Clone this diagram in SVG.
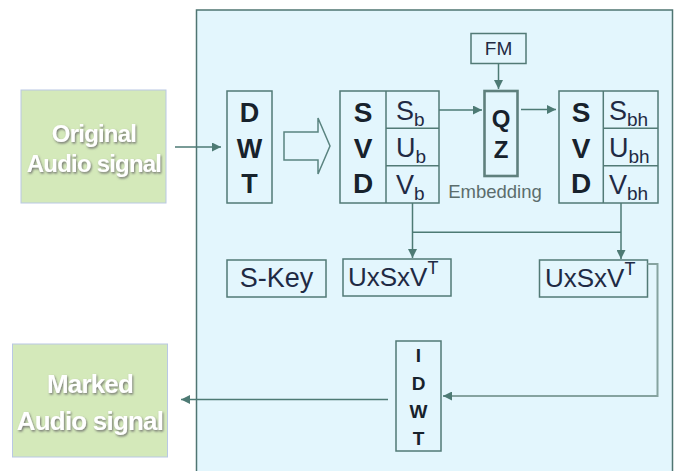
<svg xmlns="http://www.w3.org/2000/svg" width="676" height="471" viewBox="0 0 676 471">
  <defs>
    <style>
      .panel { fill: #e3f6fd; stroke: #4f7572; stroke-width: 1.5; }
      .box { fill: #e3f6fd; stroke: #527a76; stroke-width: 1.5; }
      .src { fill: #d4e9ba; stroke: #b9c8e4; stroke-width: 1; }
      .big { font-family: "Liberation Sans", Arial, sans-serif; font-weight: bold; fill: #17222c; text-anchor: middle; }
      .reg { font-family: "Liberation Sans", Arial, sans-serif; fill: #1f2a44; }
      .lbl { font-family: "Liberation Sans", Arial, sans-serif; font-weight: bold; fill: #ffffff; text-anchor: middle; letter-spacing: -0.8px; }
      .con { fill: none; stroke: #4d7a74; stroke-width: 1.5; }
    </style>
    <marker id="ah" viewBox="0 0 10 10" refX="10" refY="5" markerWidth="9" markerHeight="9" markerUnits="userSpaceOnUse" orient="auto">
      <path d="M0,0 L10,5 L0,10 z" fill="#4d7a74"/>
    </marker>
    <filter id="sh" x="-10%" y="-20%" width="120%" height="150%">
      <feDropShadow dx="1" dy="1.5" stdDeviation="1" flood-color="#6b6b6b" flood-opacity="0.9"/>
    </filter>
  </defs>

  <!-- processing panel -->
  <rect class="panel" x="196.5" y="10" width="476" height="470"/>

  <!-- source signal -->
  <g id="original">
    <rect class="src" x="21" y="90" width="145" height="113"/>
    <g filter="url(#sh)">
      <text class="lbl" font-size="24" x="94" y="142">Original</text>
      <text class="lbl" font-size="24" x="94" y="172">Audio signal</text>
    </g>
  </g>

  <!-- watermarked output -->
  <g id="marked">
    <rect class="src" x="12.5" y="344" width="155" height="113"/>
    <g filter="url(#sh)">
      <text class="lbl" font-size="26" x="90" y="393">Marked</text>
      <text class="lbl" font-size="26" x="90" y="430">Audio signal</text>
    </g>
  </g>

  <g id="dwt">
    <rect class="box" x="227" y="91" width="45" height="112"/>
    <text class="big" font-size="27" x="249.5" y="122">D</text>
    <text class="big" font-size="27" x="249.5" y="158">W</text>
    <text class="big" font-size="27" x="249.5" y="193">T</text>
  </g>

  <!-- hollow block arrow -->
  <g id="transform-arrow">
    <path d="M284,132 L318,132 L318,118 L330,146 L318,174 L318,160 L284,160 Z" fill="#e3f6fd" stroke="#5a8480" stroke-width="1.5" stroke-linejoin="miter"/>
  </g>

  <g id="svd1">
    <rect class="box" x="340" y="91" width="99" height="112"/>
    <line class="box" x1="386" y1="91" x2="386" y2="203"/>
    <line class="box" x1="386" y1="128.3" x2="439" y2="128.3"/>
    <line class="box" x1="386" y1="165.7" x2="439" y2="165.7"/>
    <text class="big" font-size="28" x="363" y="122">S</text>
    <text class="big" font-size="28" x="363" y="158">V</text>
    <text class="big" font-size="28" x="363" y="193">D</text>
    <text class="reg" font-size="27" x="396" y="120">S<tspan font-size="19" dy="6">b</tspan></text>
    <text class="reg" font-size="27" x="396" y="157">U<tspan font-size="19" dy="6">b</tspan></text>
    <text class="reg" font-size="27" x="396" y="194">V<tspan font-size="19" dy="6">b</tspan></text>
  </g>

  <g id="fm">
    <rect class="box" x="471" y="33.5" width="55" height="30"/>
    <text class="reg" font-size="19" x="498.5" y="55" text-anchor="middle">FM</text>
  </g>

  <g id="qz">
    <rect x="484.5" y="91" width="33" height="85" fill="#e3f6fd" stroke="#5f807d" stroke-width="2.6"/>
    <text class="big" font-size="24" x="501" y="127">Q</text>
    <text class="big" font-size="24" x="501" y="158">Z</text>
    <text font-family="Liberation Sans, Arial, sans-serif" font-size="18.5" fill="#5b6d6c" x="495" y="198" text-anchor="middle">Embedding</text>
  </g>

  <g id="svd2">
    <rect class="box" x="559" y="91" width="99" height="112"/>
    <line class="box" x1="603.3" y1="91" x2="603.3" y2="203"/>
    <line class="box" x1="603.3" y1="128.3" x2="658" y2="128.3"/>
    <line class="box" x1="603.3" y1="165.7" x2="658" y2="165.7"/>
    <text class="big" font-size="28" x="581" y="122">S</text>
    <text class="big" font-size="28" x="581" y="158">V</text>
    <text class="big" font-size="28" x="581" y="193">D</text>
    <text class="reg" font-size="27" x="609" y="120">S<tspan font-size="19" dy="6">bh</tspan></text>
    <text class="reg" font-size="27" x="609" y="157">U<tspan font-size="19" dy="6">bh</tspan></text>
    <text class="reg" font-size="27" x="609" y="194">V<tspan font-size="19" dy="6">bh</tspan></text>
  </g>

  <g id="skey">
    <rect class="box" x="227" y="260" width="99" height="37"/>
    <text class="reg" font-size="27" x="276.5" y="287" text-anchor="middle">S-Key</text>
  </g>

  <g id="usv1">
    <rect class="box" x="343" y="259" width="108" height="37"/>
    <text class="reg" font-size="26" x="348" y="286">UxSxV<tspan font-size="18" dy="-12">T</tspan></text>
  </g>

  <g id="usv2">
    <rect class="box" x="539.5" y="260" width="108" height="37"/>
    <text class="reg" font-size="26" x="545" y="287">UxSxV<tspan font-size="18" dy="-12">T</tspan></text>
  </g>

  <g id="idwt">
    <rect class="box" x="396" y="341" width="45" height="110"/>
    <text class="big" font-size="19" x="418.5" y="362">I</text>
    <text class="big" font-size="19" x="418.5" y="390">D</text>
    <text class="big" font-size="19" x="418.5" y="418">W</text>
    <text class="big" font-size="19" x="418.5" y="444.5">T</text>
  </g>

  <!-- connectors -->
  <g id="connectors">
    <line class="con" x1="175" y1="147" x2="221" y2="147" marker-end="url(#ah)"/>
    <line class="con" x1="439" y1="110" x2="482" y2="110" marker-end="url(#ah)"/>
    <line class="con" x1="498.5" y1="63.5" x2="498.5" y2="89" marker-end="url(#ah)"/>
    <line class="con" x1="521" y1="109.5" x2="556" y2="109.5" marker-end="url(#ah)"/>
    <line class="con" x1="412.5" y1="203" x2="412.5" y2="258" marker-end="url(#ah)"/>
    <line class="con" x1="621" y1="203" x2="621" y2="259" marker-end="url(#ah)"/>
    <line class="con" x1="412.5" y1="232.3" x2="621" y2="232.3"/>
    <polyline fill="none" stroke="#86a3a0" stroke-width="2" points="647.5,264 657.5,264 657.5,396 450,396"/>
    <line class="con" x1="450" y1="396" x2="443" y2="396" marker-end="url(#ah)"/>
    <line class="con" x1="388" y1="399.5" x2="181" y2="399.5" marker-end="url(#ah)"/>
  </g>
</svg>
